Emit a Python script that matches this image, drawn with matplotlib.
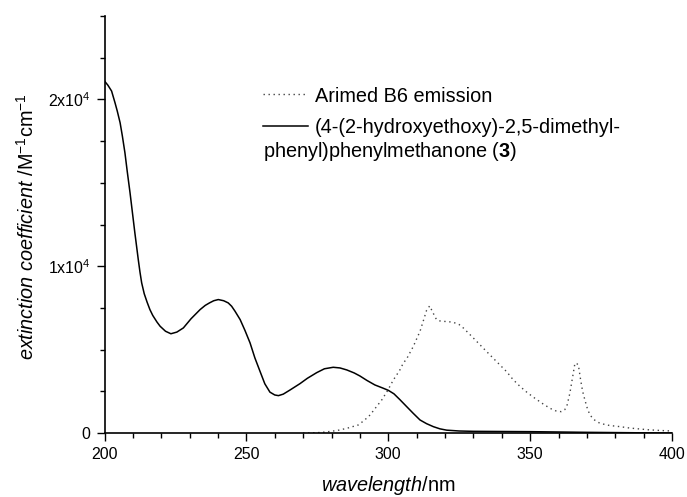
import matplotlib
matplotlib.use("Agg")
import matplotlib.pyplot as plt
from matplotlib.lines import Line2D
from matplotlib.ticker import MultipleLocator, FixedLocator, FixedFormatter

plt.rcParams['font.family'] = ['Liberation Sans', 'DejaVu Sans']
plt.rcParams['mathtext.fontset'] = 'custom'
plt.rcParams['mathtext.rm'] = 'Liberation Sans'
plt.rcParams['mathtext.it'] = 'Liberation Sans:italic'
plt.rcParams['mathtext.bf'] = 'Liberation Sans:bold'

# Absorption spectrum of compound 3 (extinction coefficient, M^-1 cm^-1)
abs_wavelength = [200, 201.2, 202.5, 203.7, 204.5, 205.5, 206.3, 207.2, 208, 209,
                  210.7, 211.9, 212.5, 213.1, 214, 215, 216, 217, 218.5, 219.6,
                  221.5, 223.4, 225.5, 227.8, 230.5, 233.7, 235.5, 237, 238.5, 240.1,
                  242, 243.6, 244.8, 246, 247.8, 249.5, 251.3, 253, 254.8, 256.5,
                  258.3, 260, 261.3, 263, 265.4, 268.9, 271.5, 274.8, 277.5, 280.6,
                  283, 285.4, 288, 290, 292.5, 295.3, 298, 300, 302, 304.1,
                  306.5, 308.8, 311.2, 313.5, 315.9, 318.2, 320.6, 325, 330, 340,
                  350, 360, 370, 380, 390, 400]
abs_epsilon = [21100, 20850, 20500, 19800, 19300, 18600, 17800, 16800, 15700, 14400,
               12000, 10400, 9650, 9000, 8350, 7850, 7400, 7050, 6650, 6400,
               6100, 5950, 6050, 6300, 6850, 7400, 7650, 7800, 7930, 8000,
               7930, 7800, 7600, 7300, 6800, 6150, 5400, 4500, 3700, 2950,
               2450, 2280, 2240, 2330, 2580, 2960, 3280, 3620, 3850, 3940,
               3900, 3780, 3600, 3420, 3150, 2880, 2700, 2560, 2350, 2000,
               1580, 1180, 780, 560, 380, 250, 170, 120, 100, 90,
               80, 60, 40, 25, 10, 0]

# Lamp emission profile (scaled to the same axis)
em_wavelength = [270, 275, 278, 282, 285.4, 289.4, 291.5, 293.6, 295.5, 297.7,
                 299.8, 301.8, 304, 305.3, 306.5, 308.8, 311.2, 312.5, 313.5, 314.6,
                 315.5, 317, 318.5, 321, 323, 325, 326.5, 328.5, 330.6, 334.1,
                 337.6, 341.7, 344, 346.4, 349, 351.7, 354.5, 357, 359, 360.9,
                 362.2, 362.9, 364, 365, 365.8, 366.5, 367, 367.8, 368.5, 369.3,
                 370.2, 371.1, 372.5, 374.6, 378, 381.7, 385, 388.7, 392, 396, 400]
em_intensity = [0, 20, 60, 150, 280, 480, 750, 1080, 1500, 1980,
                2550, 3180, 3750, 4190, 4450, 5180, 6100, 6800, 7350, 7620,
                7300, 6800, 6700, 6680, 6630, 6500, 6290, 5950, 5590, 4980,
                4380, 3680, 3200, 2800, 2420, 2080, 1750, 1480, 1330, 1280,
                1400, 1580, 2380, 3380, 4190, 4150, 4080, 3180, 2500, 1980,
                1450, 1080, 800, 580, 450, 380, 300, 240, 190, 150, 120]

y_ticks = [0, 10000, 20000]
y_tick_labels = ['0', '1x10$^4$', '2x10$^4$']
x_ticks = [200, 250, 300, 350, 400]

em_label = 'Arimed B6 emission'
abs_label_line1 = '(4-(2-hydroxyethoxy)-2,5-dimethyl-'
abs_label_line2 = r'phenyl)phenylmethanone ($\mathbf{3}$)'

W, H = 687, 497
fig = plt.figure(figsize=(W / 100, H / 100), dpi=100)
ax = fig.add_axes([104.5 / W, 1 - 433 / H, (672 - 104.5) / W, (433 - 16) / H])

dot_style = (0, (1, 2.6))
ax.plot(em_wavelength, em_intensity, color='#444444', lw=1.0, linestyle=dot_style)
ax.plot(abs_wavelength, abs_epsilon, color='black', lw=1.1)

ax.set_xlim(200, 400)
ax.set_ylim(0, 25000)

ax.spines['top'].set_visible(False)
ax.spines['right'].set_visible(False)
for s in ('left', 'bottom'):
    ax.spines[s].set_linewidth(1.2)

ax.xaxis.set_major_locator(FixedLocator(x_ticks))
ax.xaxis.set_minor_locator(MultipleLocator(10))
ax.yaxis.set_major_locator(FixedLocator(y_ticks))
ax.yaxis.set_major_formatter(FixedFormatter(y_tick_labels))
ax.yaxis.set_minor_locator(MultipleLocator(2500))

ax.tick_params(which='major', direction='out', length=5.8, width=1.0,
               labelsize=11.5, pad=4.5)
ax.tick_params(which='minor', direction='out', length=3.3, width=1.0)

lab_size = 14.3
ax.set_xlabel(r'$\mathit{wavelength}$/nm', fontsize=lab_size)
ax.xaxis.set_label_coords(388 / W, 1 - 491 / H, transform=fig.transFigure)
ax.xaxis.label.set_va('baseline')

ax.set_ylabel(r'$\mathit{extinction\ coefficient}$ /M$^{-1}$cm$^{-1}$', fontsize=lab_size)
ax.yaxis.set_label_coords(27 / W, 1 - 227 / H, transform=fig.transFigure)
ax.yaxis.label.set_va('center')

# Legend entries drawn by hand (label wraps under the line sample)
def fx(px):
    return px / W

def fy(py):
    return 1 - py / H

fig.add_artist(Line2D([fx(263), fx(305)], [fy(94), fy(94)], color='#444444',
                      lw=1.0, linestyle=dot_style, transform=fig.transFigure))
fig.add_artist(Line2D([fx(263), fx(308)], [fy(126), fy(126)], color='black',
                      lw=1.1, transform=fig.transFigure))
fig.text(fx(315), fy(101.5), em_label, fontsize=lab_size, va='baseline', ha='left')
fig.text(fx(315), fy(133.5), abs_label_line1, fontsize=lab_size, va='baseline', ha='left')
fig.text(fx(263), fy(157), abs_label_line2, fontsize=lab_size, va='baseline', ha='left')

fig.savefig('out.png', dpi=100)
